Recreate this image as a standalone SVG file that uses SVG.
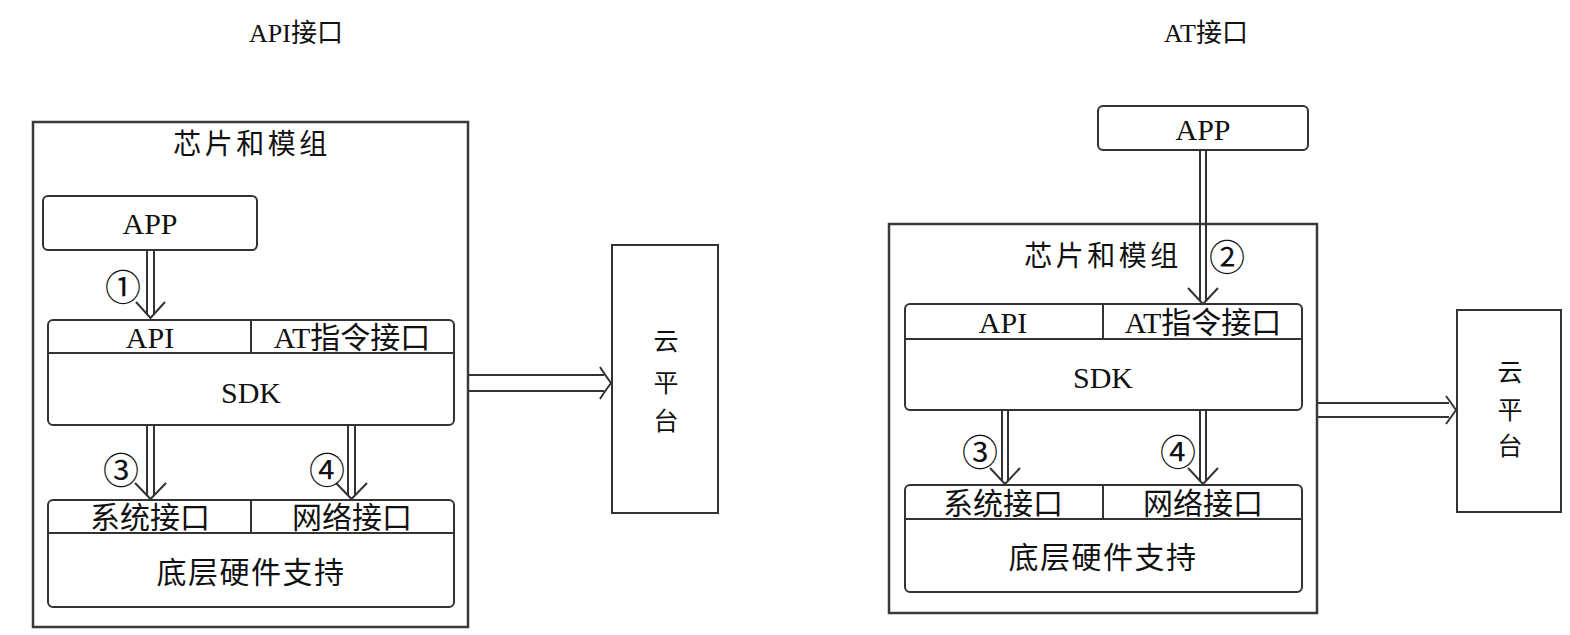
<svg xmlns="http://www.w3.org/2000/svg" width="1570" height="635" viewBox="0 0 1570 635">
<style>
text{font-family:"Liberation Serif","Noto Sans CJK SC",serif;fill:#111;text-anchor:middle;dominant-baseline:central}
.t{font-size:26px}
.h{font-size:28px;letter-spacing:3.5px}
.l{font-size:30px}
.c{font-size:25px}
.n{font-size:36px;font-family:"Noto Sans CJK SC","DejaVu Sans",sans-serif}
.outer{fill:none;stroke:#3a3a3a;stroke-width:2.5}
.box{fill:#fff;stroke:#333;stroke-width:2}
.div{stroke:#333;stroke-width:2;fill:none}
.ln{stroke:#333;stroke-width:2;fill:none}
.hd{stroke:#333;stroke-width:2;fill:none;stroke-linejoin:miter}
</style>
<rect width="1570" height="635" fill="#fff"/>
<text class="t" x="296" y="33">API接口</text>
<text class="t" x="1206" y="33">AT接口</text>

<g id="left-module">
<rect class="outer" x="33" y="122" width="435" height="505"/>
<text class="h" x="252" y="144">芯片和模组</text>
</g>
<g id="left-app">
<rect class="box" x="43" y="196" width="214" height="54" rx="5"/>
<text class="l" x="150" y="223">APP</text>
</g>
<g id="left-sdk">
<rect class="box" x="48" y="320" width="406" height="105" rx="5"/>
<path class="div" d="M48,353H454M251,320V353"/>
<text class="l" x="150" y="337">API</text>
<text class="l" x="352" y="337">AT指令接口</text>
<text class="l" x="251" y="392">SDK</text>
</g>
<g id="left-hw">
<rect class="box" x="48" y="500" width="406" height="107" rx="5"/>
<path class="div" d="M48,533H454M251,500V533"/>
<text class="l" x="150" y="517">系统接口</text>
<text class="l" x="352" y="517">网络接口</text>
<text class="l" x="251" y="572" letter-spacing="1.5">底层硬件支持</text>
</g>
<g id="left-cloud">
<rect class="box" x="612" y="245" width="106" height="268"/>
<text class="c" x="666" y="341">云</text>
<text class="c" x="666" y="383">平</text>
<text class="c" x="666" y="421">台</text>
</g>

<g id="right-app">
<rect class="box" x="1098" y="106" width="210" height="44" rx="5"/>
<text class="l" x="1203" y="129">APP</text>
</g>
<g id="right-module">
<rect class="outer" x="889" y="224" width="428" height="389"/>
<text class="h" x="1103" y="256">芯片和模组</text>
</g>
<g id="right-sdk">
<rect class="box" x="905" y="304" width="397" height="106" rx="5"/>
<path class="div" d="M905,339H1302M1103,304V339"/>
<text class="l" x="1003" y="322">API</text>
<text class="l" x="1203" y="322">AT指令接口</text>
<text class="l" x="1103" y="377">SDK</text>
</g>
<g id="right-hw">
<rect class="box" x="905" y="485" width="397" height="107" rx="5"/>
<path class="div" d="M905,519H1302M1103,485V519"/>
<text class="l" x="1003" y="503">系统接口</text>
<text class="l" x="1203" y="503">网络接口</text>
<text class="l" x="1103" y="557" letter-spacing="1.5">底层硬件支持</text>
</g>
<g id="right-cloud">
<rect class="box" x="1457" y="310" width="104" height="202"/>
<text class="c" x="1510" y="372">云</text>
<text class="c" x="1510" y="410">平</text>
<text class="c" x="1510" y="446">台</text>
</g>

<g id="connectors">
<path class="ln" d="M147,251V315M154,251V315"/>
<path class="hd" d="M136,302L150.5,318L165,302"/>
<text class="n" x="123" y="285">①</text>
<path class="ln" d="M147,426V496M154,426V496"/>
<path class="hd" d="M135,483L150.5,499L166,483"/>
<text class="n" x="121" y="468">③</text>
<path class="ln" d="M348,426V496M355,426V496"/>
<path class="hd" d="M336,483L351.5,499L367,483"/>
<text class="n" x="327" y="468">④</text>
<path class="ln" d="M469,375H604M469,391H604"/>
<path class="hd" d="M600,367Q603,372 611,383Q603,394 600,399"/>
<path class="ln" d="M1200,151V301M1206,151V301"/>
<path class="hd" d="M1188,288L1203,304L1218,288"/>
<text class="n" x="1227" y="255">②</text>
<path class="ln" d="M1002,411V481M1008,411V481"/>
<path class="hd" d="M990,468L1005,484L1020,468"/>
<text class="n" x="980" y="450">③</text>
<path class="ln" d="M1200,411V481M1206,411V481"/>
<path class="hd" d="M1188,468L1203,484L1218,468"/>
<text class="n" x="1178" y="450">④</text>
<path class="ln" d="M1318,403H1449M1318,417H1449"/>
<path class="hd" d="M1446,396Q1449,400 1456,410Q1449,420 1446,424"/>
</g>
</svg>
